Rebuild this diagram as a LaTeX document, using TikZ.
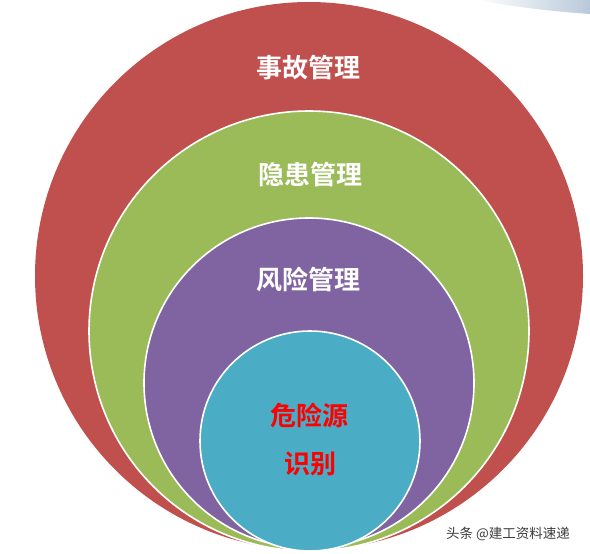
\documentclass[tikz,border=0pt]{standalone}
\usepackage{fontspec}
\newfontfamily\cjkbold{Noto Sans CJK SC Bold}
\newfontfamily\cjk{Noto Sans CJK SC}
\usetikzlibrary{positioning,shapes.geometric,backgrounds}
\definecolor{ringred}{RGB}{192,80,77}
\definecolor{ringgreen}{RGB}{155,187,89}
\definecolor{ringpurple}{RGB}{128,100,162}
\definecolor{ringcyan}{RGB}{75,172,198}
\definecolor{swooshblue}{RGB}{185,201,218}
\definecolor{markgrey}{RGB}{60,60,60}
\tikzset{
  ring/.style={circle,inner sep=0pt,draw=white,line width=1.6pt},
  ringlabel/.style={font=\cjkbold\fontsize{26}{30}\selectfont,text=white},
  corelabel/.style={font=\cjkbold\fontsize{26}{30}\selectfont,text=red,align=center},
  watermark/.style={font=\cjk\fontsize{13.5}{16}\selectfont,text=markgrey}
}

\begin{document}
\begin{tikzpicture}[x=1pt,y=-1pt]
  \useasboundingbox (0,0) rectangle (590,554);

  \shade[left color=white,right color=swooshblue]
    (476,0) .. controls (520,8) and (560,12) .. (590,14) -- (590,0) -- cycle;

  \node[ring,draw=none,fill=ringred,minimum size=548pt] (accident) at (309,276) {};
  \node[ring,fill=ringgreen,minimum size=440pt] (hazard) at (309,331) {};
  \node[ring,fill=ringpurple,minimum size=330pt] (risk) at (309,383) {};
  \node[ring,fill=ringcyan,minimum size=220pt] (source) at (310,441) {};

  \node[ringlabel] (accidentlbl) at (308,68) {事故管理};
  \node[ringlabel] (hazardlbl) at (310,175) {隐患管理};
  \node[ringlabel] (risklbl) at (308,280) {风险管理};
  \node[corelabel] (sourcelbl) at (309,416) {危险源};
  \node[corelabel] (identlbl) at (310,464) {识别};

  \node[watermark] (mark) at (508,534) {头条 @建工资料速递};
\end{tikzpicture}
\end{document}
